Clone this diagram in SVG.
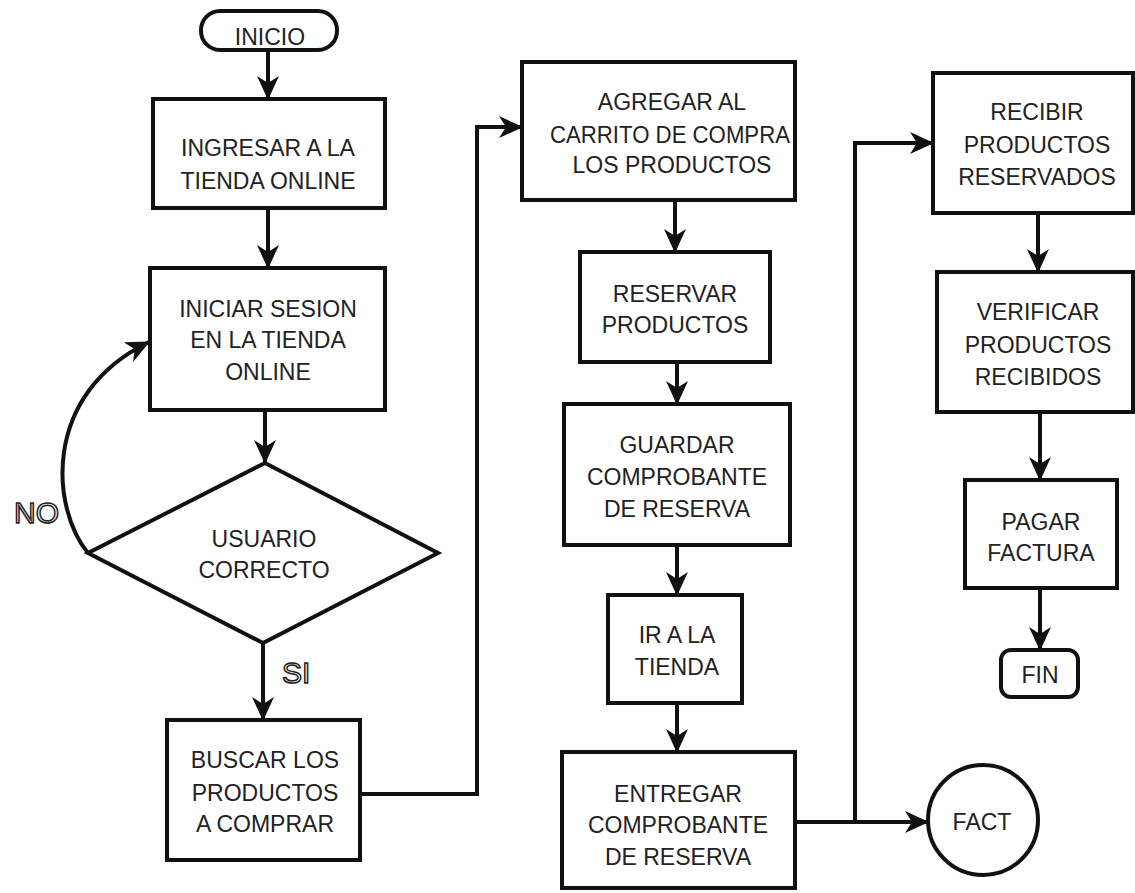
<svg xmlns="http://www.w3.org/2000/svg" width="1135" height="893" viewBox="0 0 1135 893">
  <style>
    .shape { fill: #fff; stroke: #111; stroke-width: 4; }
    .lbl { font-family: "Liberation Sans", Arial, sans-serif; font-size: 23px; fill: #222; text-anchor: middle; }
    .hollow { font-family: "Liberation Sans", Arial, sans-serif; font-size: 30px; fill: #fff; stroke: #222; stroke-width: 1.5; }
    .conn { fill: none; stroke: #111; stroke-width: 4; marker-end: url(#head); }
  </style>
  <defs>
    <marker id="head" markerUnits="userSpaceOnUse" markerWidth="26" markerHeight="24" refX="23" refY="11" orient="auto">
      <path d="M0,0 L24,11 L0,22 L7,11 z" fill="#111"/>
    </marker>
  </defs>
  <rect width="1135" height="893" fill="#fff"/>

  <g id="connectors">
    <path class="conn" d="M268,50 L268,99"/>
    <path class="conn" d="M268,208 L268,268"/>
    <path class="conn" d="M265,410 L265,463"/>
    <path class="conn" d="M88,553 C52,510 40,395 149,342"/>
    <path class="conn" d="M263,643 L263,720"/>
    <path class="conn" d="M360,794 L477,794 L477,127 L522,127"/>
    <path class="conn" d="M675,200 L675,252"/>
    <path class="conn" d="M677,362 L677,404"/>
    <path class="conn" d="M677,545 L677,595"/>
    <path class="conn" d="M677,703 L677,752"/>
    <path class="conn" d="M795,822 L928,822"/>
    <path class="conn" d="M855,822 L855,143 L933,143"/>
    <path class="conn" d="M1038,213 L1038,272"/>
    <path class="conn" d="M1040,412 L1040,480"/>
    <path class="conn" d="M1040,588 L1040,650"/>
  </g>

  <g id="inicio">
    <rect class="shape" x="201" y="11" width="136" height="39" rx="19" ry="19" stroke-width="3"/>
    <text class="lbl" x="270" y="45">INICIO</text>
  </g>

  <g id="ingresar">
    <rect class="shape" x="153" y="99" width="232" height="109"/>
    <text class="lbl" x="268" y="156">INGRESAR A LA</text>
    <text class="lbl" x="268" y="189">TIENDA ONLINE</text>
  </g>

  <g id="iniciar-sesion">
    <rect class="shape" x="150" y="268" width="235" height="142"/>
    <text class="lbl" x="268" y="317">INICIAR SESION</text>
    <text class="lbl" x="268" y="348">EN LA TIENDA</text>
    <text class="lbl" x="268" y="380">ONLINE</text>
  </g>

  <g id="usuario-correcto">
    <polygon class="shape" points="265,463 438,553 263,643 88,553"/>
    <text class="lbl" x="264" y="547">USUARIO</text>
    <text class="lbl" x="264" y="578">CORRECTO</text>
  </g>

  <g id="label-no">
    <text class="hollow" x="14" y="523">NO</text>
  </g>
  <g id="label-si">
    <text class="hollow" x="282" y="683">SI</text>
  </g>

  <g id="buscar">
    <rect class="shape" x="167" y="720" width="193" height="140"/>
    <text class="lbl" x="265" y="768">BUSCAR LOS</text>
    <text class="lbl" x="265" y="801">PRODUCTOS</text>
    <text class="lbl" x="265" y="832">A COMPRAR</text>
  </g>

  <g id="agregar">
    <rect class="shape" x="522" y="62" width="273" height="138"/>
    <text class="lbl" x="672" y="110">AGREGAR AL</text>
    <text class="lbl" x="670" y="143" textLength="240" lengthAdjust="spacingAndGlyphs">CARRITO DE COMPRA</text>
    <text class="lbl" x="672" y="173">LOS PRODUCTOS</text>
  </g>

  <g id="reservar">
    <rect class="shape" x="580" y="252" width="190" height="110"/>
    <text class="lbl" x="675" y="302">RESERVAR</text>
    <text class="lbl" x="675" y="333">PRODUCTOS</text>
  </g>

  <g id="guardar">
    <rect class="shape" x="564" y="404" width="226" height="141"/>
    <text class="lbl" x="677" y="453">GUARDAR</text>
    <text class="lbl" x="677" y="485">COMPROBANTE</text>
    <text class="lbl" x="677" y="517">DE RESERVA</text>
  </g>

  <g id="ir-tienda">
    <rect class="shape" x="608" y="595" width="134" height="108"/>
    <text class="lbl" x="677" y="643">IR A LA</text>
    <text class="lbl" x="677" y="675">TIENDA</text>
  </g>

  <g id="entregar">
    <rect class="shape" x="562" y="752" width="233" height="136"/>
    <text class="lbl" x="678" y="802">ENTREGAR</text>
    <text class="lbl" x="678" y="833">COMPROBANTE</text>
    <text class="lbl" x="678" y="865">DE RESERVA</text>
  </g>

  <g id="fact">
    <circle class="shape" cx="983" cy="820" r="55" stroke-width="3"/>
    <text class="lbl" x="982" y="830">FACT</text>
  </g>

  <g id="recibir">
    <rect class="shape" x="933" y="73" width="200" height="140"/>
    <text class="lbl" x="1037" y="120">RECIBIR</text>
    <text class="lbl" x="1037" y="153">PRODUCTOS</text>
    <text class="lbl" x="1037" y="185">RESERVADOS</text>
  </g>

  <g id="verificar">
    <rect class="shape" x="937" y="272" width="196" height="140"/>
    <text class="lbl" x="1038" y="320">VERIFICAR</text>
    <text class="lbl" x="1038" y="353">PRODUCTOS</text>
    <text class="lbl" x="1038" y="385">RECIBIDOS</text>
  </g>

  <g id="pagar">
    <rect class="shape" x="965" y="480" width="152" height="108"/>
    <text class="lbl" x="1041" y="530">PAGAR</text>
    <text class="lbl" x="1041" y="561">FACTURA</text>
  </g>

  <g id="fin">
    <rect class="shape" x="1001" y="650" width="77" height="47" rx="10" ry="10" stroke-width="3"/>
    <text class="lbl" x="1040" y="683">FIN</text>
  </g>
</svg>
